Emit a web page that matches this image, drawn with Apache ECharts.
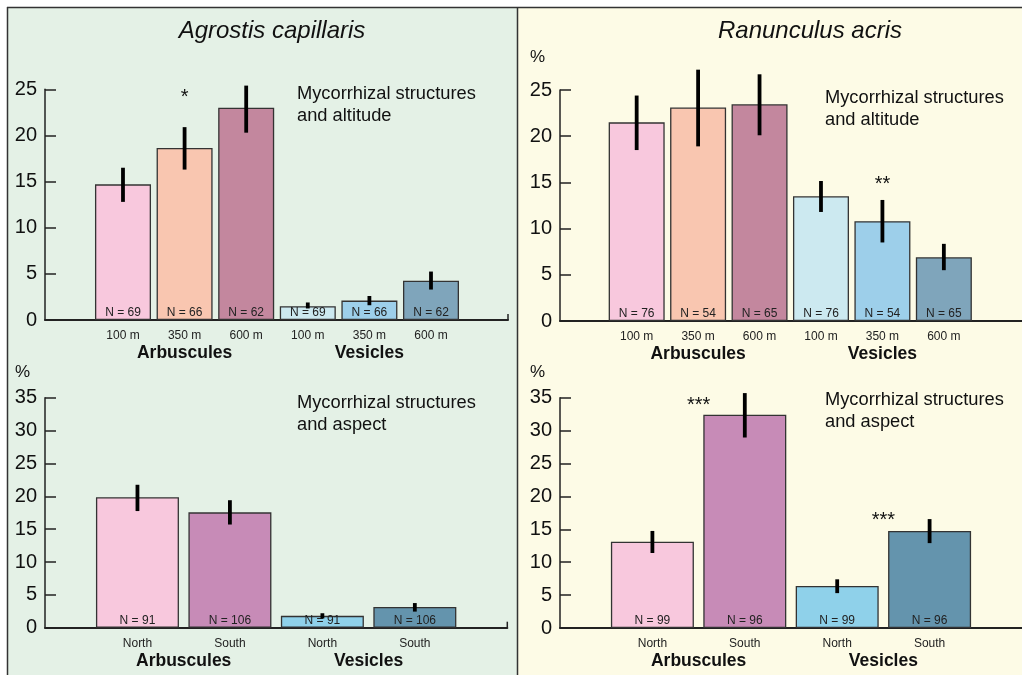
<!DOCTYPE html>
<html>
<head>
<meta charset="utf-8">
<script src="https://cdn.jsdelivr.net/npm/echarts@6/dist/echarts.min.js"></script>
<style>
html,body{margin:0;padding:0;background:#fff;}
#c{width:1022px;height:675px;}
</style>
</head>
<body>
<div id="c"></div>
<script>
// ---------- data ----------
const altCats = ['100 m','350 m','600 m','100 m','350 m','600 m'];
const aspCats = ['North','South','North','South'];
const groupNames = ['Arbuscules','Vesicles'];

const agrAltMean = [14.7, 18.65, 23.0, 1.5, 2.1, 4.25];
const agrAltLow  = [12.8, 16.3, 20.3, 1.25, 1.6, 3.3];
const agrAltHigh = [16.5, 20.9, 25.4, 1.9, 2.6, 5.25];
const agrAltN    = [69, 66, 62, 69, 66, 62];

const ranAltMean = [21.5, 23.1, 23.45, 13.5, 10.8, 6.9];
const ranAltLow  = [18.5, 18.9, 20.1, 11.8, 8.5, 5.5];
const ranAltHigh = [24.4, 27.2, 26.7, 15.15, 13.1, 8.35];
const ranAltN    = [76, 54, 65, 76, 54, 65];

const agrAspMean = [19.85, 17.55, 1.8, 3.15];
const agrAspLow  = [17.75, 15.7, 1.4, 2.45];
const agrAspHigh = [21.75, 19.4, 2.2, 3.75];
const agrAspN    = [91, 106, 91, 106];

const ranAspMean = [13.1, 32.4, 6.4, 14.75];
const ranAspLow  = [11.4, 28.95, 5.3, 12.9];
const ranAspHigh = [14.75, 35.7, 7.4, 16.55];
const ranAspN    = [99, 96, 99, 96];

// significance marks: [x position (category index), y value, text]
const agrAltStars = [[1, 24.6, '*']];
const ranAltStars = [[4, 15.2, '**']];
const agrAspStars = [];
const ranAspStars = [[0.5, 34.5, '***'], [2.5, 17.0, '***']];

const altGroupPos = [1, 4];
const aspGroupPos = [0.5, 2.5];

const altColors = ['#f8c8dd', '#f9c6b0', '#c3879e', '#cce9f0', '#9dcfea', '#7fa5bb'];
const aspColors = ['#f8c8dd', '#c78bb7', '#8fd1ea', '#6494ad'];

// ---------- build ----------
const FONT = '"Liberation Sans", Arial, Helvetica, sans-serif';
const chart = echarts.init(document.getElementById('c'), null, {renderer: 'canvas'});

const panels = [
  {grid:{left:45, top:89.3, width:463, height:230.7}, xmin:-1.266, xmax:6.25, ymax:25,
   cats:altCats, mean:agrAltMean, low:agrAltLow, high:agrAltHigh, n:agrAltN, colors:altColors,
   stars:agrAltStars, groups:altGroupPos, barW:56, endTick:true},
  {grid:{left:560, top:90, width:464, height:231}, xmin:-1.248, xmax:6.272, ymax:25,
   cats:altCats, mean:ranAltMean, low:ranAltLow, high:ranAltHigh, n:ranAltN, colors:altColors,
   stars:ranAltStars, groups:altGroupPos, barW:56, endTick:false},
  {grid:{left:45, top:397.7, width:462.3, height:230}, xmin:-1, xmax:4, ymax:35,
   cats:aspCats, mean:agrAspMean, low:agrAspLow, high:agrAspHigh, n:agrAspN, colors:aspColors,
   stars:agrAspStars, groups:aspGroupPos, barW:83, endTick:true},
  {grid:{left:560, top:397.7, width:463, height:230.3}, xmin:-1, xmax:4, ymax:35,
   cats:aspCats, mean:ranAspMean, low:ranAspLow, high:ranAspHigh, n:ranAspN, colors:aspColors,
   stars:ranAspStars, groups:aspGroupPos, barW:83, endTick:false}
];

const grids = [], xAxes = [], yAxes = [], series = [];
panels.forEach((p, k) => {
  grids.push(p.grid);
  xAxes.push({type:'value', gridIndex:k, min:p.xmin, max:p.xmax,
    axisLine:{show:true, onZero:false, lineStyle:{color:'#222', width:2}},
    axisTick:{show:false}, axisLabel:{show:false}, splitLine:{show:false}});
  yAxes.push({type:'value', gridIndex:k, min:0, max:p.ymax, interval:5,
    axisLine:{show:true, onZero:false, lineStyle:{color:'#222', width:1.5}},
    axisTick:{show:true, inside:true, length:11, lineStyle:{color:'#222', width:1.5}},
    axisLabel:{show:true, fontSize:20, color:'#111', margin:8, fontFamily:FONT},
    splitLine:{show:false}});
  // bars
  series.push({type:'bar', xAxisIndex:k, yAxisIndex:k, barWidth:p.barW,
    data:p.mean.map((v,i)=>({value:[i,v], itemStyle:{color:p.colors[i]}})),
    itemStyle:{borderColor:'#333', borderWidth:1.3},
    label:{show:true, position:'insideBottom', distance:1, fontSize:12, color:'#222', fontFamily:FONT,
      formatter:(q)=>'N = ' + p.n[q.dataIndex]},
    emphasis:{disabled:true}, animation:false, z:3});
  // error bars
  series.push({type:'custom', xAxisIndex:k, yAxisIndex:k, clip:false, animation:false, z:4,
    data:p.mean.map((v,i)=>[i, p.low[i], p.high[i]]),
    renderItem:(params, api)=>{
      const a = api.coord([api.value(0), api.value(1)]);
      const b = api.coord([api.value(0), api.value(2)]);
      return {type:'line', shape:{x1:a[0], y1:a[1], x2:b[0], y2:b[1]}, style:{stroke:'#000', lineWidth:3.8}};
    }});
  // category labels
  series.push({type:'custom', xAxisIndex:k, yAxisIndex:k, clip:false, animation:false, silent:true,
    data:p.cats.map((c,i)=>[i,0]),
    renderItem:(params, api)=>{
      const a = api.coord([api.value(0), api.value(1)]);
      return {type:'text', x:a[0], y:a[1]+16, style:{text:p.cats[params.dataIndex], fontSize:12, fontFamily:FONT,
        fill:'#222', align:'center', verticalAlign:'middle'}};
    }});
  // group labels
  series.push({type:'custom', xAxisIndex:k, yAxisIndex:k, clip:false, animation:false, silent:true,
    data:p.groups.map((g)=>[g,0]),
    renderItem:(params, api)=>{
      const a = api.coord([api.value(0), api.value(1)]);
      return {type:'text', x:a[0], y:a[1]+33.5, style:{text:groupNames[params.dataIndex], fontSize:17.5, fontWeight:'bold',
        fontFamily:FONT, fill:'#111', align:'center', verticalAlign:'middle'}};
    }});
  // stars
  series.push({type:'custom', xAxisIndex:k, yAxisIndex:k, clip:false, animation:false, silent:true,
    data:p.stars.map((s)=>[s[0], s[1]]),
    renderItem:(params, api)=>{
      const a = api.coord([api.value(0), api.value(1)]);
      return {type:'text', x:a[0], y:a[1]+4, style:{text:p.stars[params.dataIndex][2], fontSize:20,
        fontFamily:FONT, fill:'#111', align:'center', verticalAlign:'middle'}};
    }});
  if (p.endTick) {
    series.push({type:'custom', xAxisIndex:k, yAxisIndex:k, clip:false, animation:false, silent:true,
      data:[[p.xmax, 0]],
      renderItem:(params, api)=>{
        const a = api.coord([api.value(0), api.value(1)]);
        return {type:'line', shape:{x1:a[0], y1:a[1], x2:a[0], y2:a[1]-6}, style:{stroke:'#222', lineWidth:1.5}};
      }});
  }
});

const txt = (x, y, text, size, extra) => Object.assign({type:'text', x:x, y:y, z:10,
  style:{text:text, fontSize:size, fontFamily:FONT, fill:'#111', align:'left', verticalAlign:'middle'}}, extra||{});

const graphic = [
  {type:'rect', shape:{x:7, y:7, width:510.5, height:668}, style:{fill:'#e4f1e6'}, z:-100},
  {type:'rect', shape:{x:517.5, y:7, width:504.5, height:668}, style:{fill:'#fdfbe6'}, z:-100},
  {type:'line', shape:{x1:7, y1:7.5, x2:1022, y2:7.5}, style:{stroke:'#333', lineWidth:1.5}, z:-50},
  {type:'line', shape:{x1:7.5, y1:7, x2:7.5, y2:675}, style:{stroke:'#333', lineWidth:1.5}, z:-50},
  {type:'line', shape:{x1:517.5, y1:7, x2:517.5, y2:675}, style:{stroke:'#333', lineWidth:1.5}, z:-50},
  {type:'text', x:272, y:31, z:10, style:{text:'Agrostis capillaris', fontSize:24, fontStyle:'italic', fontFamily:FONT,
    fill:'#111', align:'center', verticalAlign:'middle'}},
  {type:'text', x:810, y:31, z:10, style:{text:'Ranunculus acris', fontSize:24, fontStyle:'italic', fontFamily:FONT,
    fill:'#111', align:'center', verticalAlign:'middle'}},
  txt(297, 94, 'Mycorrhizal structures', 18.3),
  txt(297, 116, 'and altitude', 18.3),
  txt(825, 98, 'Mycorrhizal structures', 18.3),
  txt(825, 120, 'and altitude', 18.3),
  txt(297, 402.5, 'Mycorrhizal structures', 18.3),
  txt(297, 424.5, 'and aspect', 18.3),
  txt(825, 400, 'Mycorrhizal structures', 18.3),
  txt(825, 422, 'and aspect', 18.3),
  txt(530, 57, '%', 17),
  txt(15, 372, '%', 17),
  txt(530, 372, '%', 17)
];

chart.setOption({
  animation:false,
  backgroundColor:'#ffffff',
  grid:grids, xAxis:xAxes, yAxis:yAxes, series:series, graphic:graphic
});
</script>
</body>
</html>
